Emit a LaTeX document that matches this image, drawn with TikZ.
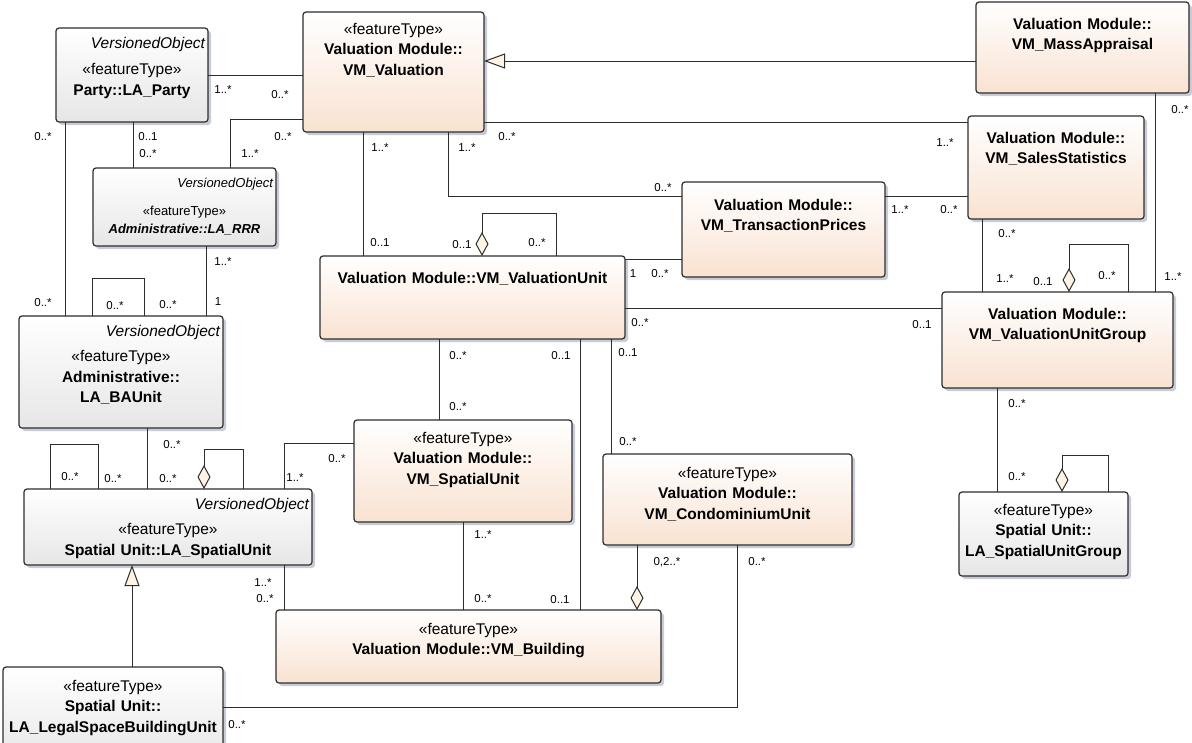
\documentclass[tikz,border=0pt]{standalone}
\usepackage{fontspec}
\setmainfont{Liberation Sans}
\usetikzlibrary{positioning, shadows, arrows.meta}

\definecolor{vmbottom}{RGB}{249,226,209}
\definecolor{labottom}{RGB}{230,230,230}
\definecolor{cream}{RGB}{255,243,228}
\definecolor{edgec}{RGB}{45,45,45}
\definecolor{shadowc}{RGB}{200,204,216}

\begin{document}
\begin{tikzpicture}
  [x=1pt, y=-1pt,
   cls/.style n args={3}{draw=edgec, line width=1.2pt, rounded corners=3pt,
     anchor=north west, inner sep=0pt, outer sep=0pt, align=center,
     text width=#1, text height=#2, text depth=#3,
     font=\fontsize{15.5}{20.5}\selectfont,
     drop shadow={shadow xshift=3pt, shadow yshift=-3pt, fill=shadowc, opacity=1}},
   vm/.style={top color=white, bottom color=vmbottom},
   la/.style={top color=white, bottom color=labottom},
   assoc/.style={draw=edgec, line width=1pt},
   agg/.style={-{Diamond[length=24pt, width=13pt, fill=cream]}},
   gen/.style={-{Triangle[length=21pt, width=15pt, fill=cream]}},
   mult/.style={font=\fontsize{11.5}{13}\selectfont, inner sep=0pt}]
  \useasboundingbox (0,0) rectangle (1192,742);
  \clip (0,0) rectangle (1192,742);

  % classes
  \node[cls={152pt}{20pt}{74pt}, la] (party) at (56,28)
    {\makebox[\linewidth][r]{\itshape VersionedObject\hspace{3pt}}\\[6pt]
     «featureType»\\ \textbf{Party::LA\_Party}};
  \node[cls={181pt}{22pt}{98pt}, vm] (val) at (303,12)
    {«featureType»\\ \textbf{Valuation Module::}\\ \textbf{VM\_Valuation}};
  \node[cls={183pt}{19pt}{59pt}, la, font=\fontsize{13}{18}\selectfont] (rrr) at (93,168)
    {\makebox[\linewidth][r]{\itshape VersionedObject\hspace{3pt}}\\[10pt]
     «featureType»\\ \textbf{\textit{Administrative::LA\_RRR}}};
  \node[cls={213pt}{27pt}{64pt}, vm] (mass) at (976,2)
    {\textbf{Valuation Module::}\\ \textbf{VM\_MassAppraisal}};
  \node[cls={176pt}{27pt}{76pt}, vm] (sales) at (968,116)
    {\textbf{Valuation Module::}\\ \textbf{VM\_SalesStatistics}};
  \node[cls={203pt}{28pt}{67pt}, vm] (trans) at (682,182)
    {\textbf{Valuation Module::}\\ \textbf{VM\_TransactionPrices}};
  \node[cls={305pt}{27pt}{56pt}, vm] (unit) at (320,256)
    {\textbf{Valuation Module::VM\_ValuationUnit}};
  \node[cls={231pt}{27pt}{69pt}, vm] (group) at (942,292)
    {\textbf{Valuation Module::}\\ \textbf{VM\_ValuationUnitGroup}};
  \node[cls={204pt}{20pt}{92pt}, la] (baunit) at (19,316)
    {\makebox[\linewidth][r]{\itshape VersionedObject\hspace{3pt}}\\[5pt]
     «featureType»\\ \textbf{Administrative::}\\ \textbf{LA\_BAUnit}};
  \node[cls={288pt}{20pt}{56pt}, la] (lasu) at (24,489)
    {\makebox[\linewidth][r]{\itshape VersionedObject\hspace{3pt}}\\[5pt]
     «featureType»\\ \textbf{Spatial Unit::LA\_SpatialUnit}};
  \node[cls={218pt}{23pt}{79pt}, vm] (vmsu) at (354,420)
    {«featureType»\\ \textbf{Valuation Module::}\\ \textbf{VM\_SpatialUnit}};
  \node[cls={249pt}{24pt}{67pt}, vm] (condo) at (603,454)
    {«featureType»\\ \textbf{Valuation Module::}\\ \textbf{VM\_CondominiumUnit}};
  \node[cls={385pt}{24pt}{49pt}, vm] (building) at (276,610)
    {«featureType»\\ \textbf{Valuation Module::VM\_Building}};
  \node[cls={169pt}{23pt}{61pt}, la] (sugroup) at (959,492)
    {«featureType»\\ \textbf{Spatial Unit::}\\ \textbf{LA\_SpatialUnitGroup}};
  \node[cls={220pt}{24pt}{76pt}, la] (legal) at (3,667)
    {«featureType»\\ \textbf{Spatial Unit::}\\ \textbf{LA\_LegalSpaceBuildingUnit}};

  % generalizations
  \draw[assoc, gen] ([yshift=-59pt]mass.north west) -- ([yshift=-49pt]val.north east);
  \draw[assoc, gen] ([xshift=129pt]legal.north west) -- ([xshift=108pt]lasu.south west);

  % associations
  \draw[assoc] (party.east) -- (party.east -| val.west)
    node[mult] at (223,90) {1..*} node[mult] at (280,95) {0..*};
  \draw[assoc] ([xshift=137pt]rrr.north west) |- ([yshift=13pt]val.south west)
    node[mult] at (283,137) {0..*} node[mult] at (250,154) {1..*};
  \draw[assoc] ([xshift=77pt]party.south west) -- ([xshift=40pt]rrr.north west)
    node[mult] at (148,137) {0..1} node[mult] at (148,154) {0..*};
  \draw[assoc] ([xshift=9pt]party.south west) -- ([xshift=46pt]baunit.north west)
    node[mult] at (43,137) {0..*} node[mult] at (43,303) {0..*};
  \draw[assoc] ([xshift=113pt]rrr.south west) -- ([xshift=187pt]baunit.north west)
    node[mult] at (223,262) {1..*} node[mult] at (218,302) {1};
  \draw[assoc] ([xshift=73pt]baunit.north west) -- ++(0,-38) -| ([xshift=125pt]baunit.north west)
    node[mult] at (115,306) {0..*} node[mult] at (168,305) {0..*};
  \draw[assoc] ([xshift=60pt]val.south west) -- ([xshift=43pt]unit.north west)
    node[mult] at (380,148) {1..*} node[mult] at (380,243) {0..1};
  \draw[assoc] ([xshift=145pt]val.south west) |- ([yshift=-14pt]trans.north west)
    node[mult] at (467,148) {1..*} node[mult] at (663,188) {0..*};
  \draw[assoc] ([yshift=10pt]val.south east) -- ([yshift=-6pt]sales.north west)
    node[mult] at (507,137) {0..*} node[mult] at (945,143) {1..*};
  \draw[assoc] ([xshift=179pt]mass.south west) -- ([xshift=213pt]group.north west)
    node[mult] at (1180,110) {0..*} node[mult] at (1173,277) {1..*};
  \draw[assoc] ([yshift=-14pt]trans.north east) -- ([yshift=-80pt]sales.north west)
    node[mult] at (900,210) {1..*} node[mult] at (949,210) {0..*};
  \draw[assoc] ([xshift=14pt]sales.south west) -- ([xshift=40pt]group.north west)
    node[mult] at (1007,234) {0..*} node[mult] at (1005,279) {1..*};
  \draw[assoc] ([yshift=-3pt]unit.north east) -- ([yshift=-77pt]trans.north west)
    node[mult] at (633,274) {1} node[mult] at (660,274) {0..*};
  \draw[assoc] ([yshift=-52pt]unit.north east) -- ([yshift=-16pt]group.north west)
    node[mult] at (640,323) {0..*} node[mult] at (922,325) {0..1};
  \draw[assoc] ([xshift=119pt]unit.south west) -- ([xshift=85pt]vmsu.north west)
    node[mult] at (458,356) {0..*} node[mult] at (458,407) {0..*};
  \draw[assoc] ([xshift=260pt]unit.south west) -- ([xshift=304pt]building.north west)
    node[mult] at (561,356) {0..1} node[mult] at (560,600) {0..1};
  \draw[assoc] ([xshift=291pt]unit.south west) -- ([xshift=8pt]condo.north west)
    node[mult] at (628,353) {0..1} node[mult] at (628,442) {0..*};
  \draw[assoc] ([xshift=260pt]lasu.north west) |- ([yshift=-23pt]vmsu.north west)
    node[mult] at (295,478) {1..*} node[mult] at (337,459) {0..*};
  \draw[assoc] ([xshift=26pt]lasu.north west) -- ++(0,-45) -| ([xshift=74pt]lasu.north west)
    node[mult] at (70,477) {0..*} node[mult] at (113,479) {0..*};
  \draw[assoc] ([xshift=128pt]baunit.south west) -- ([xshift=123pt]lasu.north west)
    node[mult] at (172,445) {0..*} node[mult] at (168,479) {0..*};
  \draw[assoc] ([xshift=260pt]lasu.south west) -- ([xshift=8pt]building.north west)
    node[mult] at (263,583) {1..*} node[mult] at (265,599) {0..*};
  \draw[assoc] ([xshift=109pt]vmsu.south west) -- ([xshift=187pt]building.north west)
    node[mult] at (483,535) {1..*} node[mult] at (483,599) {0..*};
  \draw[assoc] ([xshift=134pt]condo.south west) |- ([yshift=-40pt]legal.north east)
    node[mult] at (757,562) {0..*} node[mult] at (237,725) {0..*};
  \draw[assoc] ([xshift=55pt]group.south west) -- ([xshift=38pt]sugroup.north west)
    node[mult] at (1017,404) {0..*} node[mult] at (1017,477) {0..*};

  % aggregations
  \draw[assoc, agg] ([xshift=186pt]group.north west) -- ++(0,-48) -| ([xshift=127pt]group.north west)
    node[mult] at (1043,282) {0..1} node[mult] at (1107,276) {0..*};
  \draw[assoc, agg] ([xshift=236pt]unit.north west) -- ++(0,-43) -| ([xshift=162pt]unit.north west)
    node[mult] at (462,245) {0..1} node[mult] at (537,243) {0..*};
  \draw[assoc, agg] ([xshift=219pt]lasu.north west) -- ++(0,-40) -| ([xshift=180pt]lasu.north west);
  \draw[assoc, agg] ([xshift=149pt]sugroup.north west) -- ++(0,-37) -| ([xshift=103pt]sugroup.north west);
  \draw[assoc, agg] ([xshift=34pt]condo.south west) -- ([xshift=361pt]building.north west)
    node[mult] at (667,562) {0,2..*};
\end{tikzpicture}
\end{document}
